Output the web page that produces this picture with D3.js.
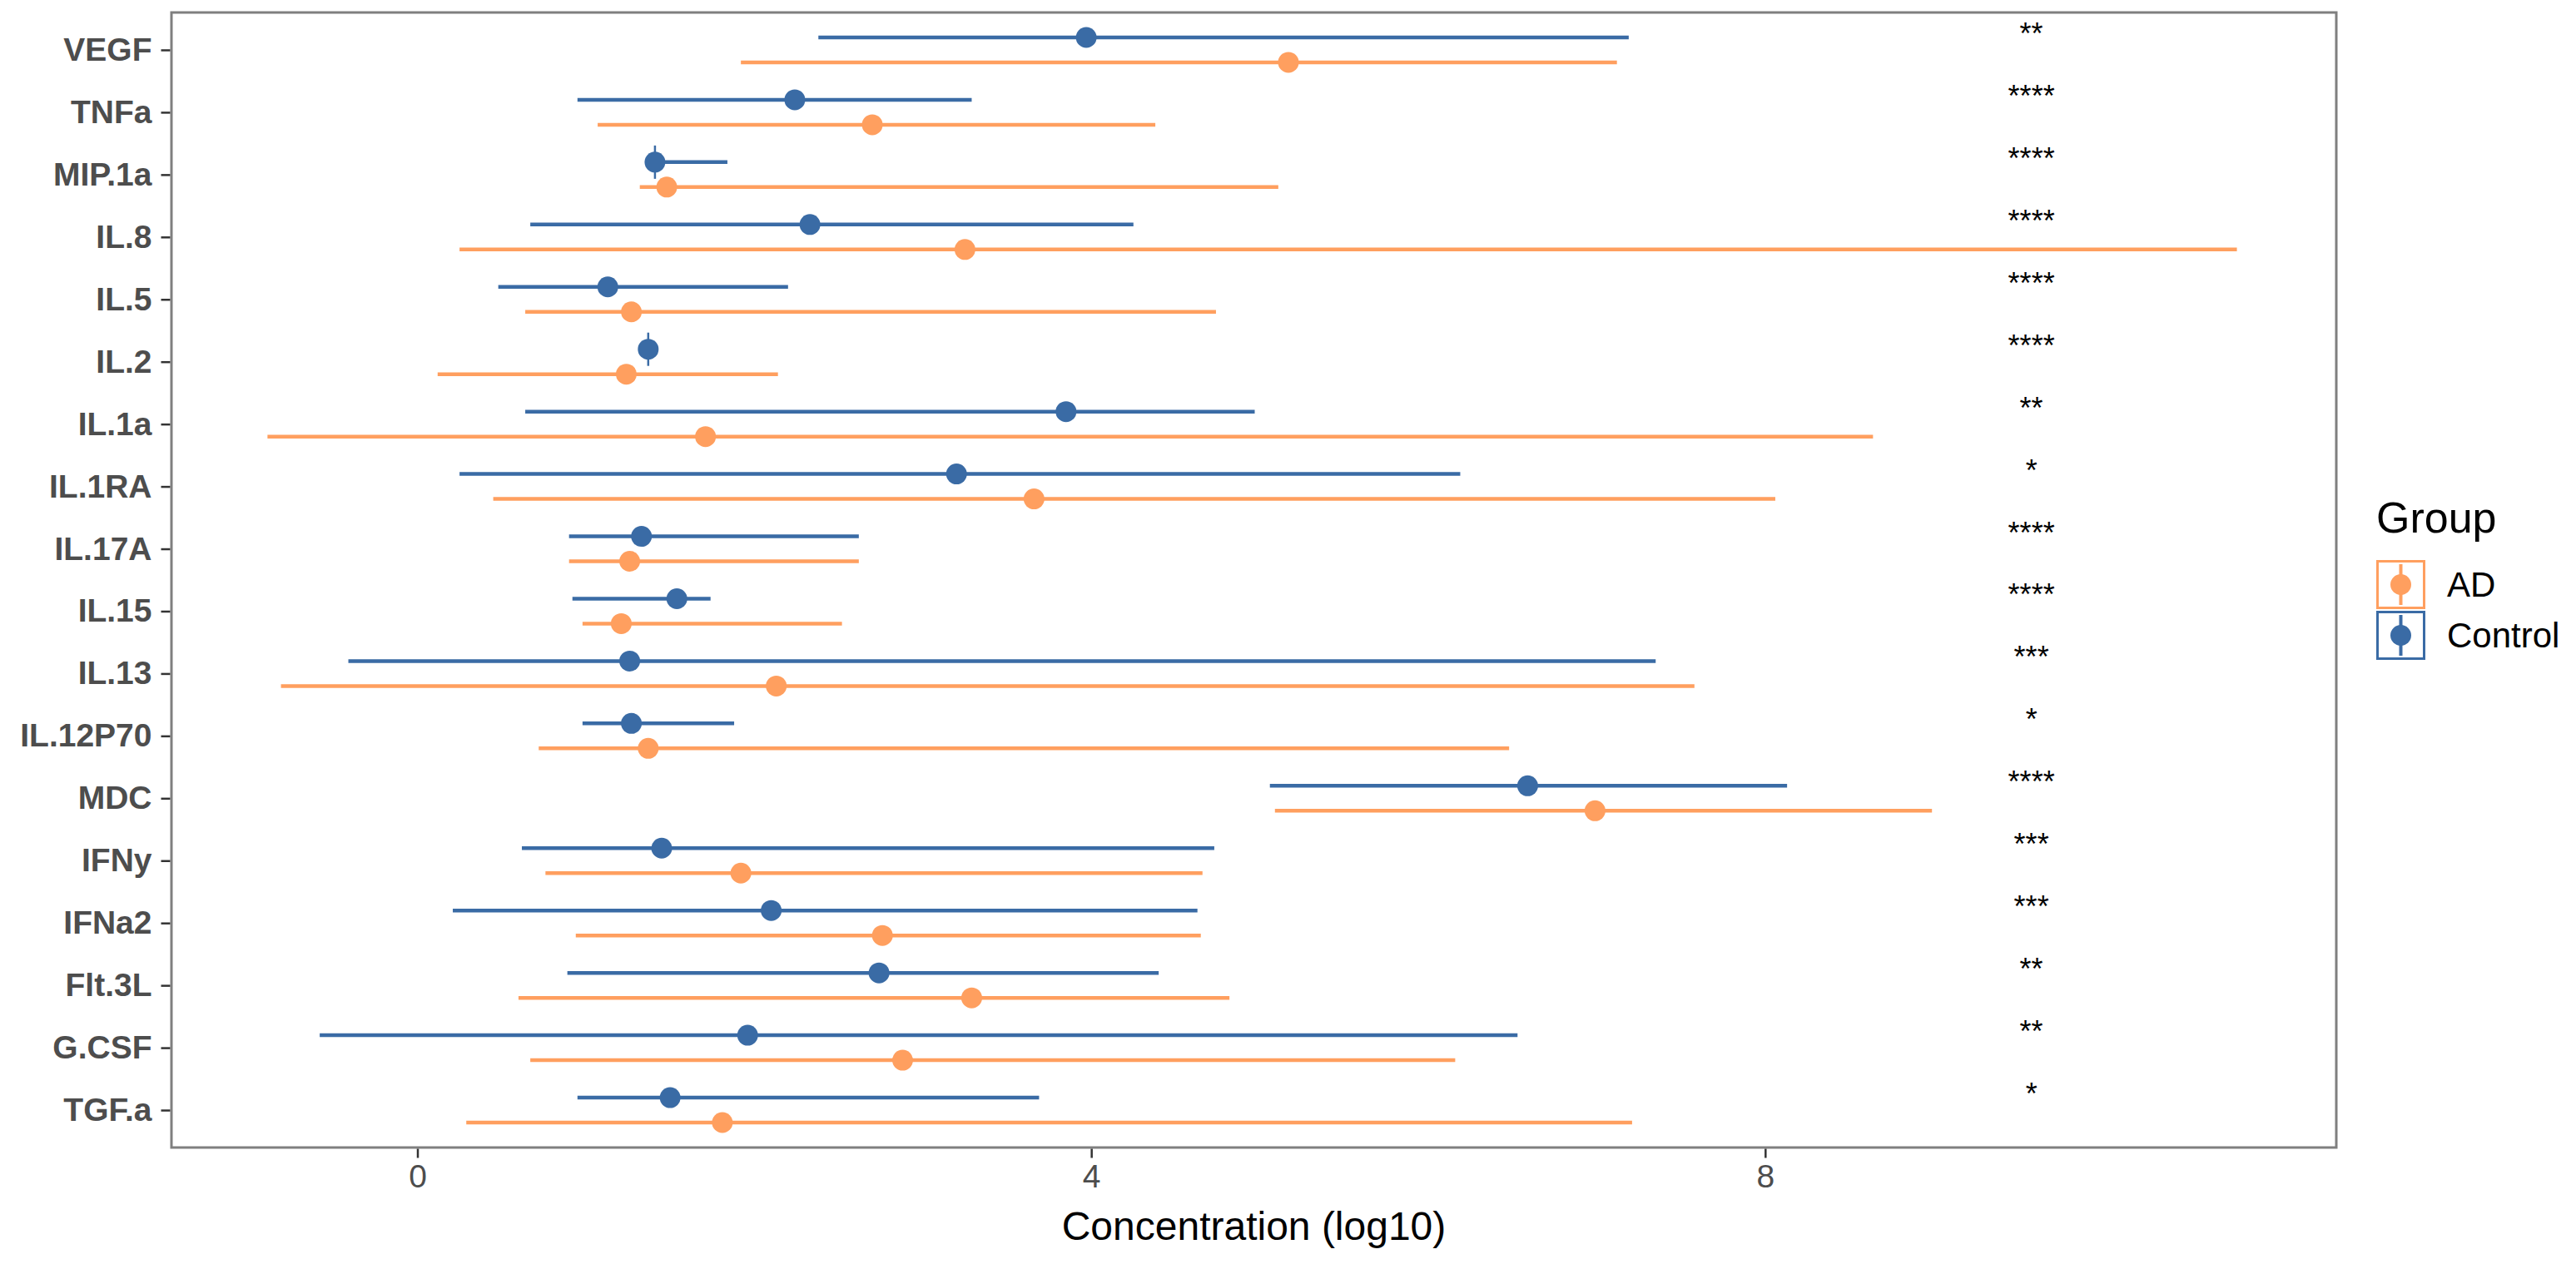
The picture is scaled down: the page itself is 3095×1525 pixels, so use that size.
<!DOCTYPE html>
<html>
<head>
<meta charset="utf-8">
<script src="https://cdn.jsdelivr.net/npm/d3@7"></script>
<style>
  body { margin: 0; background: #fff; }
  text { font-family: "Liberation Sans", Arial, sans-serif; }
</style>
</head>
<body>
<svg id="chart" width="3095" height="1525"></svg>
<script>
// cytokines, top to bottom
const cytokines = ["VEGF", "TNFa", "MIP.1a", "IL.8", "IL.5", "IL.2", "IL.1a", "IL.1RA", "IL.17A",
  "IL.15", "IL.13", "IL.12P70", "MDC", "IFNy", "IFNa2", "Flt.3L", "G.CSF", "TGF.a"];

const ctrlMean = [3.97, 2.24, 1.41, 2.33, 1.13, 1.37, 3.85, 3.20, 1.33, 1.54, 1.26, 1.27, 6.59, 1.45, 2.10, 2.74, 1.96, 1.50];
const ctrlLo   = [2.38, 0.95, 1.40, 0.67, 0.48, 1.36, 0.64, 0.25, 0.90, 0.92, -0.41, 0.98, 5.06, 0.62, 0.21, 0.89, -0.58, 0.95];
const ctrlHi   = [7.19, 3.29, 1.84, 4.25, 2.20, 1.38, 4.97, 6.19, 2.62, 1.74, 7.35, 1.88, 8.13, 4.73, 4.63, 4.40, 6.53, 3.69];

const adMean = [5.17, 2.70, 1.48, 3.25, 1.27, 1.24, 1.71, 3.66, 1.26, 1.21, 2.13, 1.37, 6.99, 1.92, 2.76, 3.29, 2.88, 1.81];
const adLo   = [1.92, 1.07, 1.32, 0.25, 0.64, 0.12, -0.89, 0.45, 0.90, 0.98, -0.81, 0.72, 5.09, 0.76, 0.94, 0.60, 0.67, 0.29];
const adHi   = [7.12, 4.38, 5.11, 10.80, 4.74, 2.14, 8.64, 8.06, 2.62, 2.52, 7.58, 6.48, 8.99, 4.66, 4.65, 4.82, 6.16, 7.21];

const signif = ["**", "****", "****", "****", "****", "****", "**", "*", "****",
  "****", "***", "*", "****", "***", "***", "**", "**", "*"];
const starPos = 9.58;

// control markers drawn with a thin vertical spike
const spiked = ["MIP.1a", "IL.2"];

const groups = ["AD", "Control"];
const colors = { AD: "#FF9F5F", Control: "#3A6BA5" };
const xTicks = [0, 4, 8];

const svg = d3.select("#chart");
const panel = { left: 206, right: 2807, top: 15, bottom: 1379 };

const x = d3.scaleLinear().domain([-1.46, 11.39]).range([panel.left, panel.right]);
const y = d3.scalePoint().domain(cytokines).range([panel.top, panel.bottom]).padding(0.6);
const dodge = y.step() * 0.2;

const rows = [];
cytokines.forEach((c, i) => {
  rows.push({ cyt: c, group: "AD", mean: adMean[i], lo: adLo[i], hi: adHi[i], off: dodge });
  rows.push({ cyt: c, group: "Control", mean: ctrlMean[i], lo: ctrlLo[i], hi: ctrlHi[i], off: -dodge });
});

// ranges
svg.append("g").selectAll("line")
  .data(rows)
  .join("line")
  .attr("x1", d => x(d.lo))
  .attr("x2", d => x(d.hi))
  .attr("y1", d => y(d.cyt) + d.off)
  .attr("y2", d => y(d.cyt) + d.off)
  .attr("stroke", d => colors[d.group])
  .attr("stroke-width", 4.5);

svg.append("g").selectAll("line")
  .data(rows.filter(d => d.group === "Control" && spiked.includes(d.cyt)))
  .join("line")
  .attr("x1", d => x(d.mean))
  .attr("x2", d => x(d.mean))
  .attr("y1", d => y(d.cyt) + d.off - 20)
  .attr("y2", d => y(d.cyt) + d.off + 20)
  .attr("stroke", d => colors[d.group])
  .attr("stroke-width", 2.5);

svg.append("g").selectAll("circle")
  .data(rows)
  .join("circle")
  .attr("cx", d => x(d.mean))
  .attr("cy", d => y(d.cyt) + d.off)
  .attr("r", 12.5)
  .attr("fill", d => colors[d.group]);

// significance stars
svg.append("g").selectAll("text")
  .data(cytokines)
  .join("text")
  .attr("x", x(starPos))
  .attr("y", d => y(d) - 7)
  .attr("text-anchor", "middle")
  .attr("font-size", 36)
  .attr("fill", "#000")
  .text((d, i) => signif[i]);

// panel border
svg.append("rect")
  .attr("x", panel.left).attr("y", panel.top)
  .attr("width", panel.right - panel.left).attr("height", panel.bottom - panel.top)
  .attr("fill", "none")
  .attr("stroke", "#7F7F7F")
  .attr("stroke-width", 3);

// axes
const xAxis = svg.append("g")
  .attr("transform", `translate(0,${panel.bottom + 1.5})`)
  .call(d3.axisBottom(x).tickValues(xTicks).tickSize(11).tickPadding(8).tickFormat(d3.format("d")));
xAxis.select(".domain").remove();
xAxis.selectAll("line").attr("stroke", "#333").attr("stroke-width", 2.5);
xAxis.selectAll("text").attr("font-size", 39).attr("fill", "#4D4D4D")
  .attr("font-family", "'Liberation Sans', Arial, sans-serif");

const yAxis = svg.append("g")
  .attr("transform", `translate(${panel.left - 1.5},0)`)
  .call(d3.axisLeft(y).tickSize(11).tickPadding(11));
yAxis.select(".domain").remove();
yAxis.selectAll("line").attr("stroke", "#333").attr("stroke-width", 2.5);
yAxis.selectAll("text").attr("font-size", 39).attr("font-weight", "bold").attr("fill", "#4D4D4D")
  .attr("font-family", "'Liberation Sans', Arial, sans-serif");

svg.append("text")
  .attr("x", (panel.left + panel.right) / 2)
  .attr("y", 1490)
  .attr("text-anchor", "middle")
  .attr("font-size", 48)
  .attr("fill", "#000")
  .text("Concentration (log10)");

// legend
const legend = svg.append("g").attr("transform", "translate(2855,0)");
legend.append("text")
  .attr("x", 0).attr("y", 640)
  .attr("font-size", 52)
  .attr("fill", "#000")
  .text("Group");

const keys = legend.selectAll("g.key")
  .data(groups)
  .join("g")
  .attr("class", "key")
  .attr("transform", (d, i) => `translate(0,${673 + i * 61})`);

keys.append("rect")
  .attr("x", 1.5).attr("y", 1.5)
  .attr("width", 56).attr("height", 56)
  .attr("fill", "#fff")
  .attr("stroke", d => colors[d])
  .attr("stroke-width", 3);
keys.append("line")
  .attr("x1", 29.5).attr("x2", 29.5)
  .attr("y1", 5).attr("y2", 54)
  .attr("stroke", d => colors[d])
  .attr("stroke-width", 4);
keys.append("circle")
  .attr("cx", 29.5).attr("cy", 29.5).attr("r", 12.5)
  .attr("fill", d => colors[d]);
keys.append("text")
  .attr("x", 85).attr("y", 44)
  .attr("font-size", 42)
  .attr("fill", "#000")
  .text(d => d);
</script>
</body>
</html>
